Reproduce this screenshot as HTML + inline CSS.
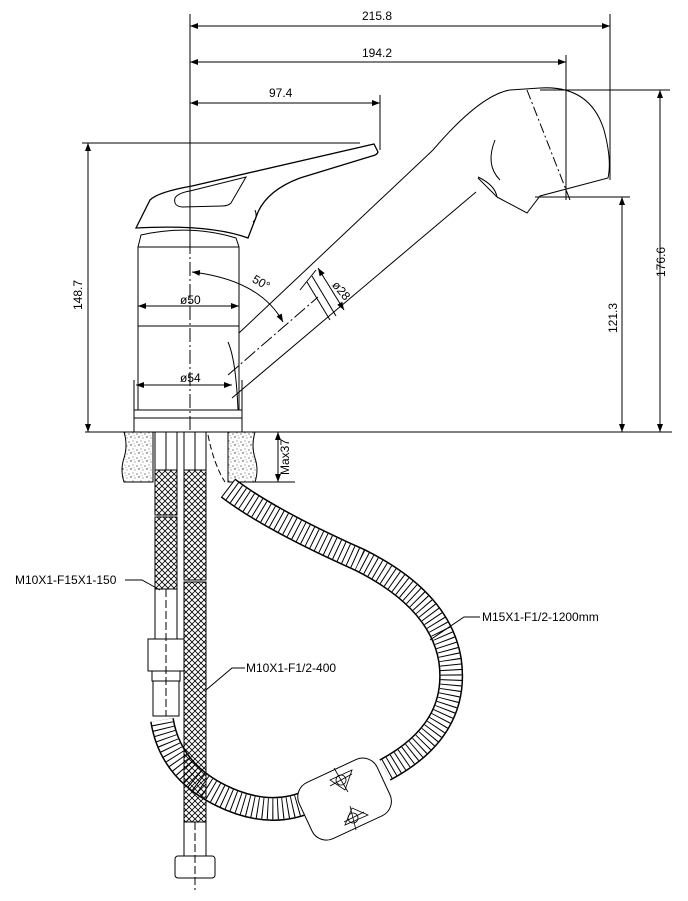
<!DOCTYPE html>
<html><head><meta charset="utf-8"><style>
html,body{margin:0;padding:0;background:#fff;}
svg{display:block;}
text{font-family:"Liberation Sans",sans-serif;font-size:12px;fill:#000;}
</style></head><body>
<svg width="688" height="901" viewBox="0 0 688 901" xmlns="http://www.w3.org/2000/svg">
<defs>
<pattern id="mesh" width="6" height="6" patternUnits="userSpaceOnUse">
<path d="M0 0L6 6M6 0L0 6" stroke="#000" stroke-width="0.8"/>
</pattern>
<pattern id="stone" width="8" height="8" patternUnits="userSpaceOnUse">
<rect width="8" height="8" fill="#fff"/>
<circle cx="1" cy="2" r="0.6" fill="#333"/><circle cx="5" cy="1" r="0.5" fill="#333"/>
<circle cx="3" cy="5" r="0.7" fill="#333"/><circle cx="7" cy="6" r="0.5" fill="#333"/>
<circle cx="6" cy="3.5" r="0.4" fill="#333"/>
</pattern>
<marker id="ar" markerWidth="8" markerHeight="6" refX="8" refY="3" orient="auto-start-reverse" markerUnits="userSpaceOnUse">
<path d="M0 0L8 3L0 6z" fill="#000"/></marker>
</defs>
<g stroke="#000" fill="none" stroke-width="1">
<line x1="190" y1="14" x2="190" y2="240"/>
<line x1="610" y1="14" x2="610" y2="180"/>
<line x1="566" y1="55" x2="566" y2="200"/>
<line x1="380" y1="95" x2="380" y2="150"/>
<line x1="82" y1="143" x2="360" y2="143"/>
<line x1="540" y1="90" x2="670" y2="90"/>
<line x1="535" y1="197" x2="630" y2="197"/>
<line x1="85" y1="432" x2="672" y2="432"/>
<line x1="190" y1="26" x2="610" y2="26" marker-start="url(#ar)" marker-end="url(#ar)"/>
<line x1="190" y1="62" x2="566" y2="62" marker-start="url(#ar)" marker-end="url(#ar)"/>
<line x1="190" y1="103" x2="380" y2="103" marker-start="url(#ar)" marker-end="url(#ar)"/>
<line x1="88" y1="143" x2="88" y2="432" marker-start="url(#ar)" marker-end="url(#ar)"/>
<line x1="660" y1="90" x2="660" y2="432" marker-start="url(#ar)" marker-end="url(#ar)"/>
<line x1="622" y1="197" x2="622" y2="432" marker-start="url(#ar)" marker-end="url(#ar)"/>
<line x1="138" y1="306" x2="239" y2="306" marker-start="url(#ar)" marker-end="url(#ar)"/>
<line x1="136" y1="385" x2="232" y2="385" marker-start="url(#ar)" marker-end="url(#ar)"/>
<line x1="134" y1="380" x2="134" y2="432"/>
<line x1="242" y1="380" x2="242" y2="432"/>
<line x1="255" y1="482" x2="295" y2="482"/>
<line x1="278" y1="432" x2="278" y2="482" marker-start="url(#ar)" marker-end="url(#ar)"/>
<line x1="190" y1="240" x2="190" y2="430" stroke-dasharray="14 3 2 3"/>
<line x1="228" y1="375" x2="318" y2="297" stroke-dasharray="14 3 2 3"/>
<path d="M192 272 Q260 280 283 322" marker-start="url(#ar)" marker-end="url(#ar)"/>
<path d="M136 228 L150 200 Q158 192 192 186 L374 144 L378 152 Q377 155 372 156 L300 178 Q268 190 258 212 L248 238 Q210 224 136 228 Z" stroke-width="1.3"/>
<path d="M175 198 Q178 193 190 191 L246 177 L231 203 Q228 206 222 206 L182 207 Q173 206 175 198 Z"/>
<path d="M255 210 Q258 218 253 222"/>
<path d="M138 247 L141 235 Q190 224 236 238 L239 247"/>
<rect x="138" y="247" width="101" height="163"/>
<line x1="138" y1="326" x2="239" y2="326"/>
<rect x="134" y="410" width="108" height="8"/>
<line x1="134" y1="418" x2="134" y2="432"/>
<line x1="242" y1="418" x2="242" y2="432"/>
<path d="M239 333 L433 150"/>
<path d="M238 410 Q236 360 228 342"/>
<path d="M232 398 L476 192"/>
<path d="M433 150 Q480 95 510 90 L540 88 Q590 85 604 130 Q612 160 608 178 L540 196 L527 213 L497 197 Q495 185 478 177"/>
<path d="M497 197 L478 178"/>
<path d="M495 140 Q485 165 500 180"/>
<path d="M527 90 L570 200" stroke-dasharray="10 3 2 3"/>
<line x1="300" y1="290" x2="316" y2="270"/>
<line x1="307" y1="282" x2="330" y2="320"/>
<line x1="312" y1="276" x2="336" y2="316"/>
<line x1="318" y1="268" x2="344" y2="310" marker-start="url(#ar)" marker-end="url(#ar)"/>
<path d="M124 432 L153 432 L153 482 L124 482 Q120 470 124 458 Q128 445 124 432Z" fill="url(#stone)"/>
<path d="M228 432 L255 432 Q251 446 255 458 Q259 470 255 482 L228 482 Z" fill="url(#stone)"/>
<path d="M208 435 Q214 465 225 482" stroke-dasharray="6 3"/>
<path d="M228 488 Q270 520 360 560 Q440 600 450 660 Q460 730 385 770 M312 800 Q270 820 220 795 Q170 770 162 720" stroke="#000" stroke-width="24"/>
<path d="M228 488 Q270 520 360 560 Q440 600 450 660 Q460 730 385 770 M312 800 Q270 820 220 795 Q170 770 162 720" stroke="#fff" stroke-width="21"/>
<path d="M228 488 Q270 520 360 560 Q440 600 450 660 Q460 730 385 770 M312 800 Q270 820 220 795 Q170 770 162 720" stroke="#000" stroke-width="21" stroke-dasharray="1 4"/>
<g transform="rotate(-25 345 800)">
<rect x="302" y="768" width="86" height="62" rx="16" fill="#fff"/>
</g>
<g stroke-width="0.8">
<path d="M330 780 L352 770 L345 790 Z"/><circle cx="341" cy="780" r="5"/><line x1="334" y1="768" x2="348" y2="792"/><line x1="330" y1="786" x2="352" y2="774"/>
<path d="M345 825 L368 815 L352 808 Z"/><circle cx="353" cy="818" r="5"/><line x1="350" y1="806" x2="356" y2="830"/><line x1="344" y1="822" x2="364" y2="812"/>
</g>
<rect x="155" y="432" width="22" height="38" fill="#fff"/>
<line x1="166" y1="432" x2="166" y2="470"/>
<rect x="155" y="470" width="22" height="45" fill="url(#mesh)"/>
<rect x="155" y="517" width="22" height="72" fill="url(#mesh)"/>
<rect x="155" y="589" width="22" height="50" fill="#fff"/>
<rect x="148" y="639" width="36" height="32" fill="#fff"/>
<rect x="152" y="671" width="28" height="10" fill="#fff"/>
<rect x="153" y="681" width="26" height="35" fill="#fff"/>
<line x1="166" y1="589" x2="166" y2="716" stroke-dasharray="8 3"/>
<rect x="184" y="432" width="22" height="38" fill="#fff"/>
<line x1="195" y1="432" x2="195" y2="470"/>
<rect x="184" y="470" width="22" height="110" fill="url(#mesh)"/>
<rect x="184" y="582" width="22" height="275" fill="url(#mesh)"/>
<rect x="184" y="822" width="22" height="34" fill="#fff"/>
<rect x="175" y="856" width="40" height="22" rx="3" fill="#fff"/>
<line x1="195" y1="822" x2="195" y2="890" stroke-dasharray="8 3"/>
<path d="M125 580 L142 580 L160 590"/>
<path d="M245 668 L232 668 L206 690"/>
<path d="M480 617 L464 617 L430 640"/>
</g>
<text x="362" y="20">215.8</text>
<text x="362" y="57">194.2</text>
<text x="269" y="97">97.4</text>
<text x="180" y="304">ø50</text>
<text x="180" y="382">ø54</text>
<text x="252" y="287" transform="rotate(30 262 283)">50°</text>
<text x="334" y="292" transform="rotate(50 340 286)">ø28</text>
<text transform="translate(82 295) rotate(-90)" text-anchor="middle">148.7</text>
<text transform="translate(665 262) rotate(-90)" text-anchor="middle">176.6</text>
<text transform="translate(617 318) rotate(-90)" text-anchor="middle">121.3</text>
<text transform="translate(289 457) rotate(-90)" text-anchor="middle" font-size="11">Max37</text>
<text x="15" y="584" font-size="11">M10X1-F15X1-150</text>
<text x="246" y="672" font-size="11">M10X1-F1/2-400</text>
<text x="482" y="621" font-size="11">M15X1-F1/2-1200mm</text>
</svg>
</body></html>
